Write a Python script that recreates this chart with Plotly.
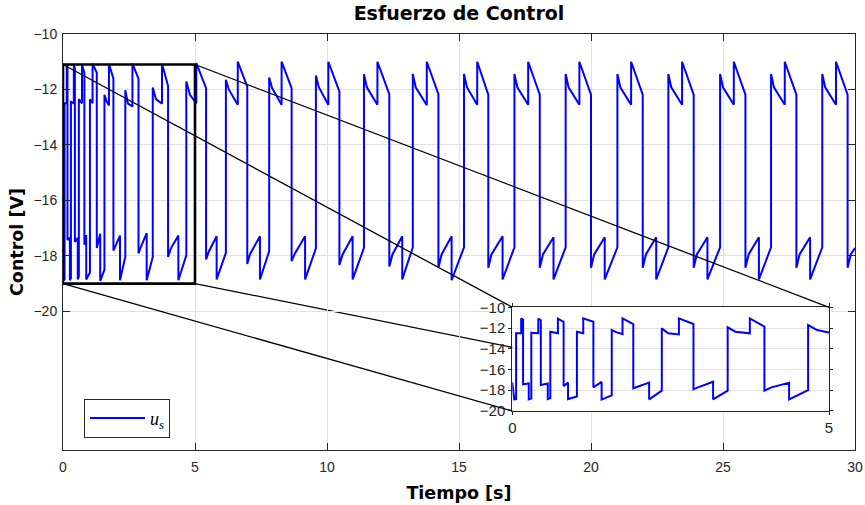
import plotly.graph_objects as go

# ---- data: vertices of the control signal (time [s], control [V]) ----
t_s = [
    0.00, 0.01, 0.03, 0.06,
    0.06, 0.14, 0.14, 0.17, 0.17, 0.26, 0.26, 0.30,
    0.30, 0.41, 0.41, 0.45, 0.45, 0.56, 0.56, 0.60,
    0.60, 0.72, 0.72, 0.81, 0.81, 0.88, 0.88, 1.02,
    1.02, 1.12, 1.12, 1.28, 1.28, 1.41, 1.41, 1.57,
    1.57, 1.65, 1.74, 1.74, 1.91, 1.91, 2.16, 2.16, 2.36,
    2.36, 2.46, 2.63, 2.63, 2.86, 2.86, 2.92, 3.17, 3.17, 3.40,
    3.40, 3.52, 3.75, 3.75, 3.98, 3.98, 4.09, 4.37, 4.37, 4.67,
    4.67, 4.81, 5.05, 5.05, 5.42, 5.42, 5.52, 5.82, 5.82, 6.17,
    6.17, 6.28, 6.62, 6.62, 6.98, 6.98, 7.08, 7.46, 7.46, 7.81,
    7.81, 7.92, 8.28, 8.28, 8.66, 8.66, 8.78, 9.17, 9.17, 9.58,
    9.58, 9.69, 10.05, 10.05, 10.47, 10.47, 10.59, 10.97, 10.97, 11.40,
    11.40, 11.51, 11.91, 11.91, 12.36, 12.36, 12.48, 12.85, 12.85, 13.25,
    13.25, 13.36, 13.78, 13.78, 14.22, 14.22, 14.34, 14.72, 14.72, 15.19,
    15.19, 15.30, 15.69, 15.69, 16.11, 16.11, 16.23, 16.65, 16.65, 17.10,
    17.10, 17.21, 17.62, 17.62, 18.06, 18.06, 18.18, 18.58, 18.58, 19.04,
    19.04, 19.15, 19.56, 19.56, 20.00, 20.00, 20.12, 20.52, 20.52, 21.00,
    21.00, 21.11, 21.52, 21.52, 21.96, 21.96, 22.08, 22.47, 22.47, 22.93,
    22.93, 23.04, 23.45, 23.45, 23.89, 23.89, 24.01, 24.41, 24.41, 24.89,
    24.89, 25.00, 25.41, 25.41, 25.85, 25.85, 25.97, 26.36, 26.36, 26.82,
    26.82, 26.93, 27.34, 27.34, 27.78, 27.78, 27.90, 28.30, 28.30, 28.76,
    28.76, 28.87, 29.28, 29.28, 29.72, 29.72, 29.84, 30.00,
]
u_v = [
    -17.25, -18.00, -18.88, -18.85,
    -12.50, -12.50, -11.07, -11.20, -17.43, -17.35, -18.88, -18.80,
    -12.45, -12.50, -11.10, -11.25, -17.50, -17.35, -18.85, -18.75,
    -12.35, -12.50, -11.10, -11.40, -17.60, -17.25, -18.85, -18.60,
    -12.35, -12.50, -11.07, -11.40, -17.72, -17.20, -18.90, -18.50,
    -12.19, -12.42, -12.58, -11.07, -11.61, -17.81, -17.27, -18.88, -18.04,
    -12.03, -12.51, -12.61, -11.07, -11.61, -17.91, -17.75, -17.18, -18.88, -18.04,
    -11.93, -12.35, -12.51, -11.07, -11.87, -18.04, -17.72, -17.27, -18.88, -17.98,
    -11.71, -12.19, -12.50, -11.05, -11.95, -18.13, -17.85, -17.29, -18.85, -17.89,
    -11.65, -12.00, -12.55, -11.00, -11.90, -18.29, -17.95, -17.29, -18.85, -17.83,
    -11.57, -11.95, -12.55, -11.00, -11.95, -18.19, -17.92, -17.29, -18.85, -17.73,
    -11.50, -11.92, -12.55, -11.00, -12.07, -18.33, -17.95, -17.29, -18.85, -17.71,
    -11.45, -11.92, -12.55, -11.00, -12.17, -18.38, -17.95, -17.29, -18.85, -17.69,
    -11.44, -11.92, -12.57, -11.00, -12.17, -18.43, -17.95, -17.29, -18.88, -17.69,
    -11.44, -11.92, -12.55, -11.00, -12.19, -18.43, -17.95, -17.29, -18.85, -17.69,
    -11.44, -11.92, -12.55, -11.00, -12.19, -18.43, -17.95, -17.33, -18.85, -17.69,
    -11.44, -11.92, -12.55, -11.00, -12.19, -18.43, -17.95, -17.33, -18.85, -17.69,
    -11.44, -11.92, -12.55, -11.00, -12.19, -18.43, -17.95, -17.33, -18.85, -17.69,
    -11.44, -11.92, -12.55, -11.00, -12.19, -18.43, -17.95, -17.33, -18.85, -17.69,
    -11.44, -11.92, -12.55, -11.00, -12.19, -18.43, -17.95, -17.33, -18.85, -17.69,
    -11.44, -11.92, -12.55, -11.00, -12.19, -18.43, -17.95, -17.33, -18.85, -17.69,
    -11.44, -11.92, -12.55, -11.00, -12.19, -18.43, -17.95, -17.72,
]

x_ticks = [0, 5, 10, 15, 20, 25, 30]
y_ticks = [-20, -18, -16, -14, -12, -10]
inset_x_ticks = [0, 5]
inset_y_ticks = [-20, -18, -16, -14, -12, -10]
x_range = [0, 30]
y_range = [-25, -10]
inset_x_range = [0, 5]
inset_y_range = [-20, -10]
zoom_t = [0, 5]          # zoom rectangle time span
zoom_u = [-19.0, -11.1]  # zoom rectangle control span

title_text = "Esfuerzo de Control"
x_label = "Tiempo [s]"
y_label = "Control [V]"
legend_label = "<i>u</i><sub><i>s</i></sub>"

# ---- layout constants ----
W, H = 865, 505
ML, MR, MT, MB = 63, 10, 34, 55
inset_dx = [0.5673, 0.9672]
inset_dy = [0.0938, 0.3430]

AX = "#262626"
GRID = "#e1e1e1"
tick_font = dict(family="Liberation Sans, Arial, sans-serif", size=14, color=AX)
inset_tick_font = dict(family="Liberation Sans, Arial, sans-serif", size=15, color=AX)
lab_font = dict(family="DejaVu Sans, sans-serif", size=17.5, color="#000000")

fig = go.Figure()
fig.add_trace(go.Scatter(x=t_s, y=u_v, mode="lines", name=legend_label,
                         line=dict(color="#0000ff", width=2),
                         xaxis="x", yaxis="y", showlegend=True))
fig.add_trace(go.Scatter(x=t_s, y=u_v, mode="lines", name="inset",
                         line=dict(color="#0000ff", width=2),
                         xaxis="x2", yaxis="y2", showlegend=False))

common = dict(showline=True, linecolor=AX, linewidth=1, mirror="ticks",
              ticks="inside", tickcolor=AX, tickwidth=1, zeroline=False,
              automargin=False,
              showgrid=True, gridcolor=GRID, gridwidth=1)

fig.update_layout(
    width=W, height=H, autosize=False,
    margin=dict(l=ML, r=MR, t=MT, b=MB, pad=0),
    paper_bgcolor="white", plot_bgcolor="white",
    title=dict(text="<b>" + title_text + "</b>", x=0.5, xref="paper",
               xanchor="center", y=1 - 13 / H, yref="container", yanchor="middle",
               automargin=False,
               font=dict(family="DejaVu Sans, sans-serif", size=19, color="#000000")),
    xaxis=dict(domain=[0, 1], range=x_range, tickvals=x_ticks, ticklen=7,
               tickfont=tick_font, ticklabelstandoff=4,
               title=dict(text="<b>" + x_label + "</b>", font=lab_font, standoff=12),
               **common),
    yaxis=dict(domain=[0, 1], range=y_range, tickvals=y_ticks, ticklen=7,
               tickfont=tick_font, ticklabelstandoff=2,
               title=dict(text="<b>" + y_label + "</b>", font=lab_font, standoff=5),
               **common),
    xaxis2=dict(domain=inset_dx, anchor="y2", range=inset_x_range,
                tickvals=inset_x_ticks, ticklen=3, tickfont=inset_tick_font,
                **{**common, "ticks": "outside"}),
    yaxis2=dict(domain=inset_dy, anchor="x2", range=inset_y_range,
                tickvals=inset_y_ticks, ticklen=3, tickfont=inset_tick_font,
                **{**common, "ticks": "outside"}),
    legend=dict(x=(84 - ML) / (W - ML - MR), y=(450 - 437.7) / (H - MT - MB),
                xanchor="left", yanchor="bottom", bgcolor="white",
                bordercolor=AX, borderwidth=1, itemwidth=55,
                font=dict(family="Liberation Serif, serif", size=18, color="#000000")),
)

# zoom rectangle on the main axes
fig.add_shape(type="rect", xref="x", yref="y", x0=zoom_t[0], x1=zoom_t[1],
              y0=zoom_u[0], y1=zoom_u[1], line=dict(color="black", width=2.6),
              layer="above")

def to_paper(tv, uv):
    return ((tv - x_range[0]) / (x_range[1] - x_range[0]),
            (uv - y_range[0]) / (y_range[1] - y_range[0]))

links = [
    (zoom_t[0], zoom_u[1], inset_dx[0], inset_dy[1], "above"),
    (zoom_t[1], zoom_u[1], inset_dx[1], inset_dy[1], "above"),
    (zoom_t[1], zoom_u[0], inset_dx[1], inset_dy[0], "below"),
    (zoom_t[0], zoom_u[0], inset_dx[0], inset_dy[0], "above"),
]
for tv, uv, px, py, lay in links:
    x0, y0 = to_paper(tv, uv)
    fig.add_shape(type="line", xref="paper", yref="paper", x0=x0, y0=y0,
                  x1=px, y1=py, line=dict(color="black", width=1.3), layer=lay)

fig.write_html("out.html")
